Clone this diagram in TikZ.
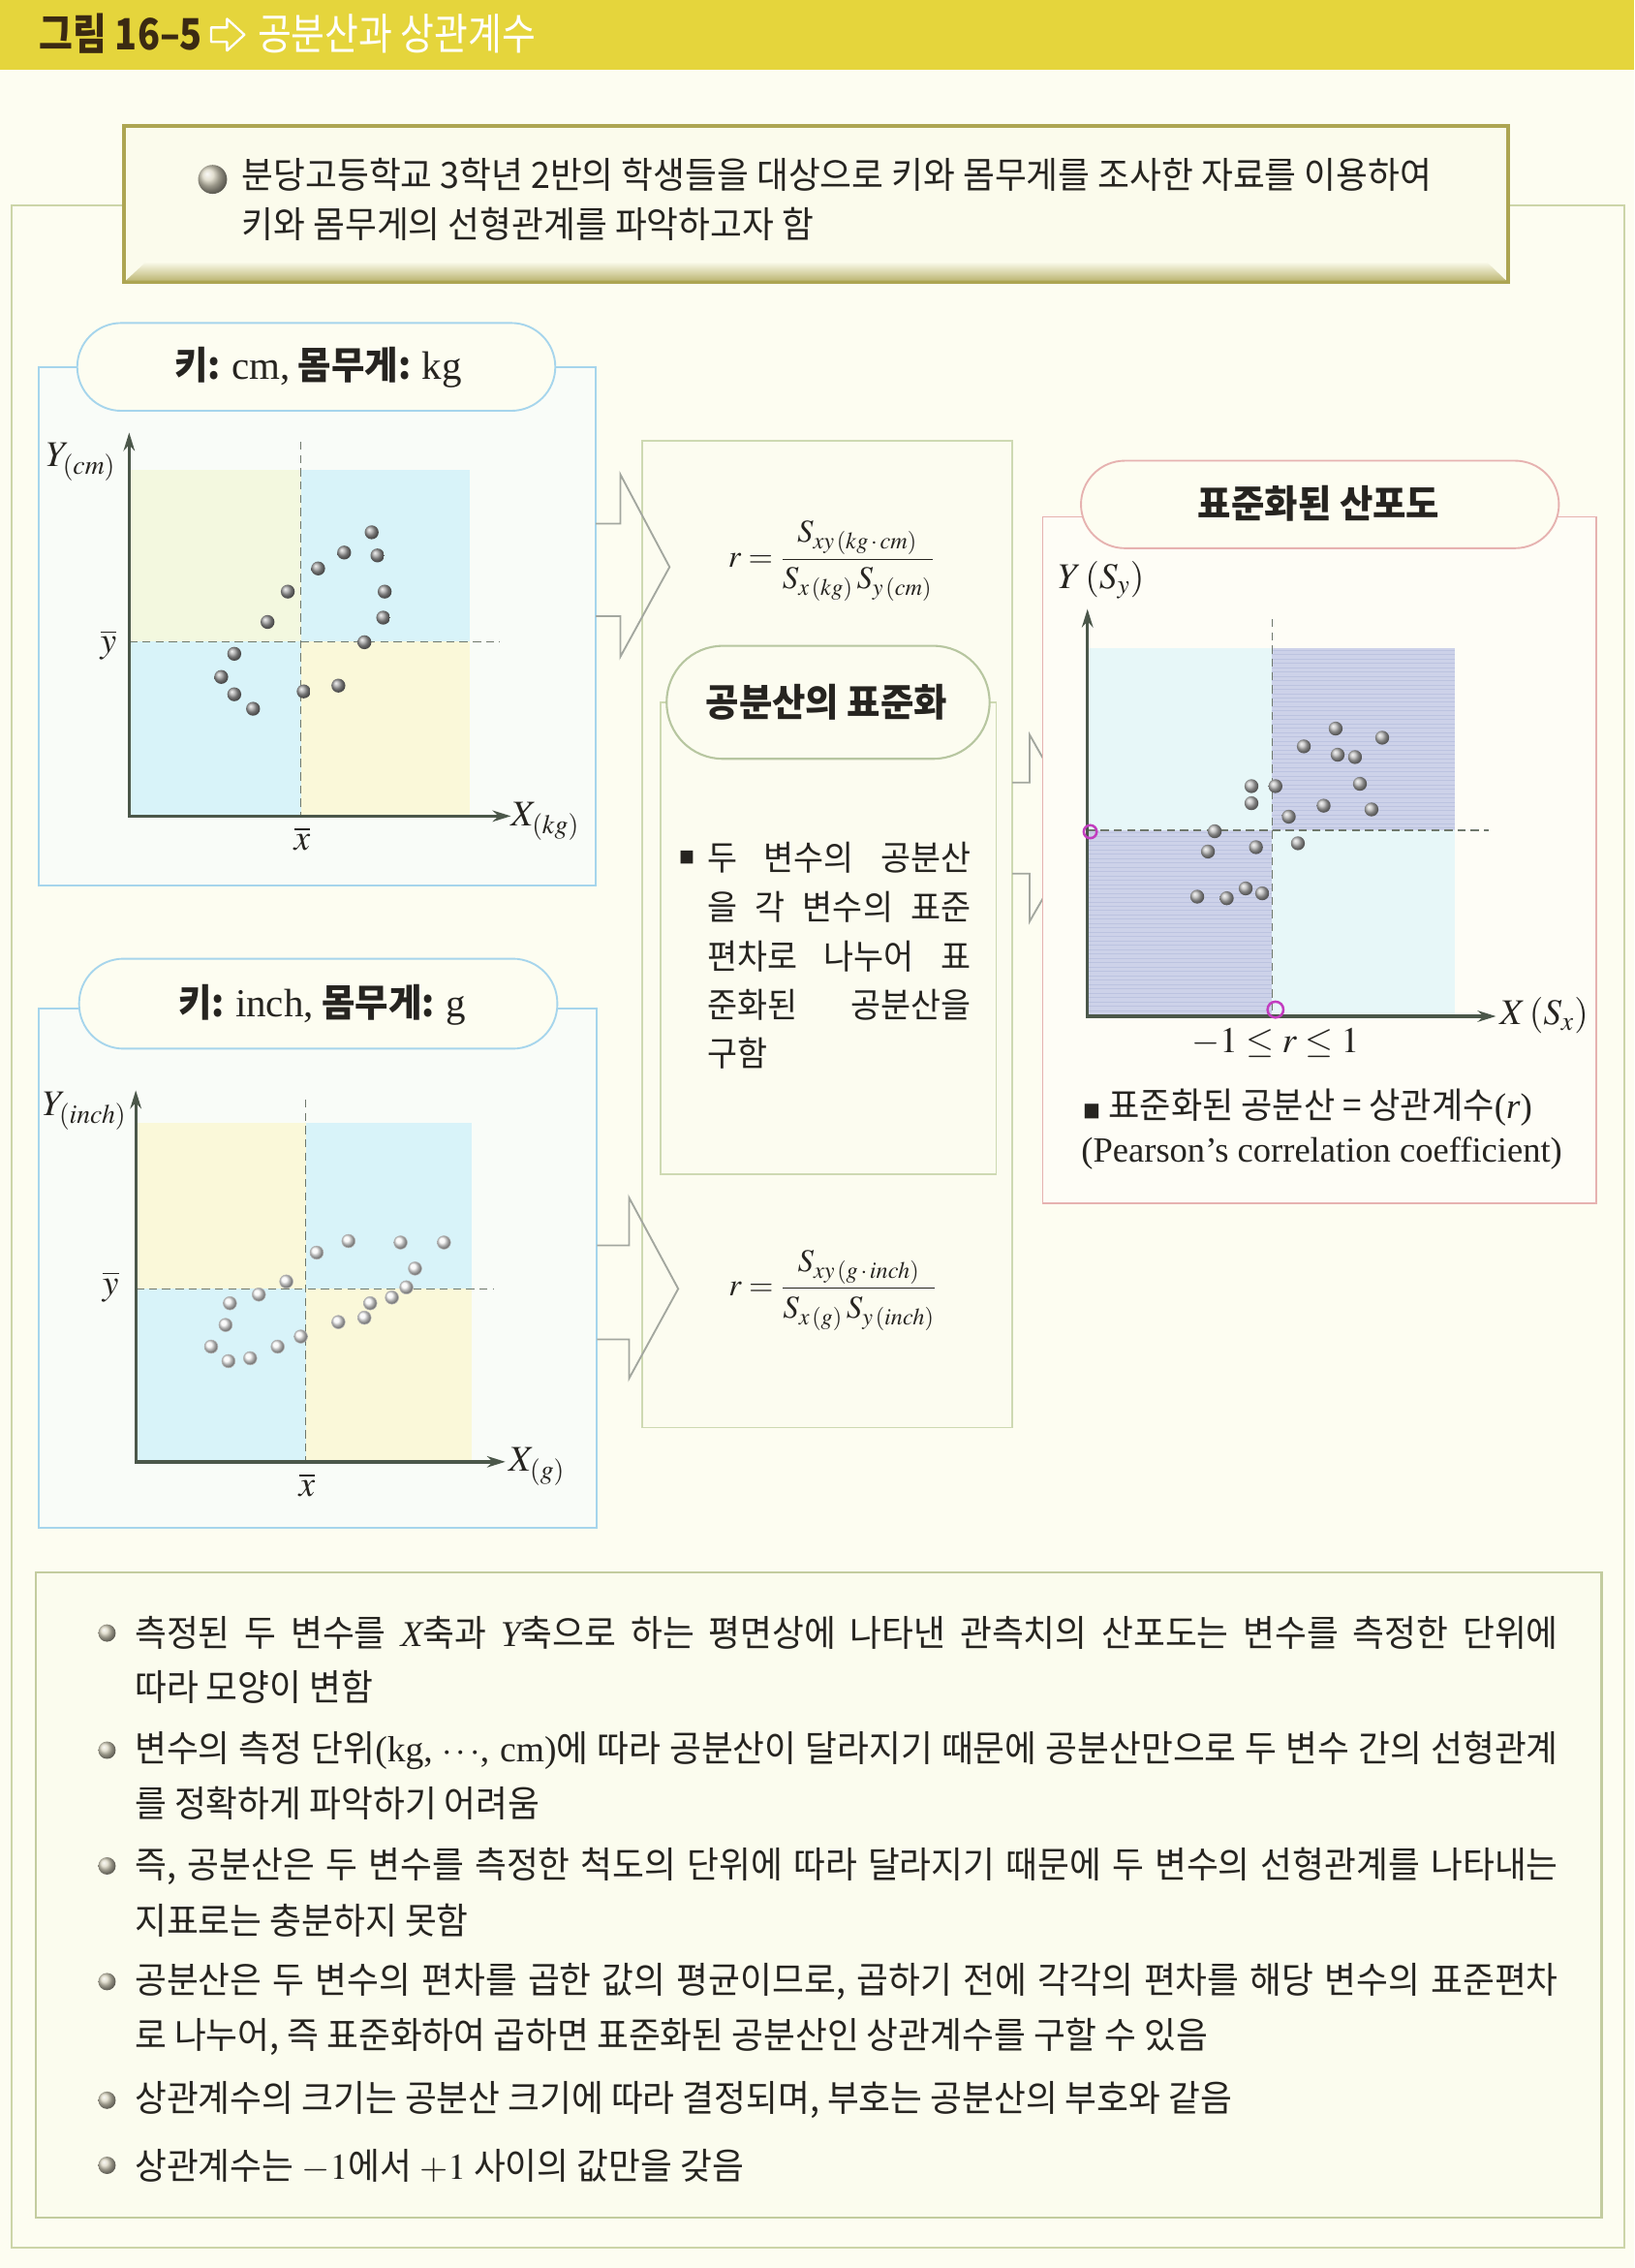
\documentclass[tikz,border=0pt]{standalone}
\usepackage{mathptmx}
\usepackage[no-math]{fontspec}
\setmainfont{Noto Sans CJK KR}[FakeStretch=0.95]
\newfontfamily\tm{Liberation Serif}
\newfontfamily\ttl{Noto Sans CJK KR}[FakeStretch=0.85]
\usetikzlibrary{arrows.meta}
\newcommand\setfs[1]{\fontsize{#1pt}{#1pt}\selectfont}
\definecolor{bg}{HTML}{FDFDF1}
\definecolor{banner}{HTML}{E5D53C}
\definecolor{ttlbrown}{HTML}{3B2A12}
\definecolor{outerc}{HTML}{CCD5A8}
\definecolor{topbord}{HTML}{ADA552}
\definecolor{topfill}{HTML}{FBFBEC}
\definecolor{bluebord}{HTML}{A6D5EC}
\definecolor{panelfill}{HTML}{F9FCF8}
\definecolor{qcyan}{HTML}{D8F3F9}
\definecolor{qyg}{HTML}{F3F8DF}
\definecolor{qyel}{HTML}{FAF8D9}
\definecolor{axisc}{HTML}{4B574A}
\definecolor{dashc}{HTML}{6F786C}
\definecolor{midbord}{HTML}{CED9B2}
\definecolor{midpill}{HTML}{B7C6A0}
\definecolor{midfill}{HTML}{FCFCF0}
\definecolor{pinkb}{HTML}{E6B2B0}
\definecolor{rightfill}{HTML}{FEFDF6}
\definecolor{lav}{HTML}{CDD2E9}
\definecolor{lavline}{HTML}{BCC3E0}
\definecolor{lcyan}{HTML}{E7F7F8}
\definecolor{magen}{HTML}{C23DBF}
\definecolor{arrowc}{HTML}{A3A79F}
\definecolor{botbord}{HTML}{C3CC9F}
\definecolor{botfill}{HTML}{FBFCEE}
\definecolor{textc}{HTML}{262420}
\definecolor{bulc}{HTML}{DAD6C2}
\begin{document}
\begin{tikzpicture}[x=0.025cm,y=-0.025cm,
  txt/.style={inner sep=0pt, text=textc},
  ltxt/.style={txt, anchor=west},
  btxt/.style={ltxt, font=\setfs{17.9}},
  mtxt/.style={ltxt, font=\setfs{16.9}},
  hdr/.style={txt, font=\bfseries\setfs{18.75}},
  lab/.style={txt, font=\setfs{17.8}},
  frm/.style={txt, font=\setfs{15.6}},
  axes/.style={draw=axisc, line width=1.6pt, {Stealth[length=9pt,width=5.5pt]}-{Stealth[length=9pt,width=5.5pt]}},
  dsh/.style={draw=dashc, line width=0.5pt, dash pattern=on 4pt off 2.5pt},
  bigarrow/.style={draw=arrowc, line width=0.9pt, line join=miter},
  panelb/.style={draw=bluebord, line width=0.9pt},
  dotA/.style={ball color=gray!75!white},
  dotB/.style={ball color=white!93!gray},
  dotC/.style={ball color=gray!55!white},
  bul/.style={ball color=bulc}
]
\useasboundingbox (0,0) rectangle (1130,1568);
\fill[bg] (0,0) rectangle (1130,1568);
% ---------- banner ----------
\fill[banner] (0,0) rectangle (1130,48);
\node[ltxt, text=ttlbrown, font=\ttl\bfseries\setfs{21.2}] (tnum) at (27,23) {그림 16–5};
\draw[white, line width=1.1pt, line join=round] (146,19) -- (157,19) -- (157,13) -- (169,24) -- (157,35) -- (157,29) -- (146,29) -- cycle;
\node[ltxt, text=white, font=\ttl\setfs{21.2}] (ttitle) at (178,23) {공분산과 상관계수};
% ---------- outer frame ----------
\draw[outerc, line width=1pt] (8,142) rectangle (1123,1554);
% ---------- top box ----------
\draw[topbord, line width=1.8pt, fill=topfill] (85.5,87) rectangle (1043,195);
\shade[top color=topfill, bottom color=topbord!80] (87,194) -- (101,181) -- (1028,181) -- (1041.5,194) -- cycle;
\shade[bul] (147,124) circle (10);
\node[btxt] (intro1) at (167,121) {분당고등학교 3학년 2반의 학생들을 대상으로 키와 몸무게를 조사한 자료를 이용하여};
\node[btxt] (intro2) at (167,155) {키와 몸무게의 선형관계를 파악하고자 함};
% ---------- panel 1 ----------
\draw[panelb, fill=panelfill] (26.5,254) rectangle (412,612);
\fill[qyg] (89.3,325) rectangle (208,443.7);
\fill[qcyan] (208,325) rectangle (325,443.7);
\fill[qcyan] (89.3,443.7) rectangle (208,564.2);
\fill[qyel] (208,443.7) rectangle (325,564.2);
\draw[dsh] (208,305.4) -- (208,564.2);
\draw[dsh] (89.3,443.7) -- (345.6,443.7);
\draw[axes] (89.3,299) -- (89.3,564.2) -- (353.3,564.2);
\foreach \x/\y in {257/368, 238/382, 220/393, 261/384, 199/409, 266/409, 185/430, 265/427, 252/444, 162/452, 153/468, 162/480, 175/490, 210/478, 234/474}
  \shade[dotA] (\x,\y) circle (4.8);
\node[lab] (ylab1) at (56,319.5) {$Y_{(cm)}$};
\node[lab] (xlab1) at (377,568) {$X_{(kg)}$};
\node[lab] (ybar1) at (75,446) {$\overline{y}$};
\node[lab] (xbar1) at (209,580) {$\overline{x}$};
\draw[panelb, fill=bg, rounded corners=0.76cm] (53.4,223.3) rectangle (384,284);
\node[hdr] (h1) at (220,254) {키: {\tm\mdseries\setfs{19.5}cm,} 몸무게: {\tm\mdseries\setfs{19.5}kg}};
% ---------- panel 2 ----------
\draw[panelb, fill=panelfill] (26.5,697) rectangle (412.8,1056);
\fill[qyel] (93.9,776.3) rectangle (211.6,891);
\fill[qcyan] (211.6,776.3) rectangle (326.4,891);
\fill[qcyan] (93.9,891) rectangle (211.6,1010.6);
\fill[qyel] (211.6,891) rectangle (326.4,1010.6);
\draw[dsh] (211.6,760.2) -- (211.6,1010.6);
\draw[dsh] (93.9,891) -- (341.8,891);
\draw[axes] (93.9,753.8) -- (93.9,1010.6) -- (349.5,1010.6);
\foreach \x/\y in {241/858, 277/859, 307/859, 219/866, 287/877, 198/886, 281/890, 179/895, 271/897, 256/901, 159/901, 252/911, 234/914, 156/916, 208/924, 192/931, 146/931, 173/939, 158/941}
  {\shade[dotB] (\x,\y) circle (4.6); \draw[gray!60, line width=0.3pt] (\x,\y) circle (4.6);}
\node[lab] (ylab2) at (58.5,768) {$Y_{(inch)}$};
\node[lab] (xlab2) at (371.3,1014) {$X_{(g)}$};
\node[lab] (ybar2) at (76.5,889.5) {$\overline{y}$};
\node[lab] (xbar2) at (212.3,1026.5) {$\overline{x}$};
\draw[panelb, fill=bg, rounded corners=0.77cm] (54.7,662.8) rectangle (385.4,725);
\node[hdr] (h2) at (222.6,694.8) {키: {\tm\mdseries\setfs{19.5}inch,} 몸무게: {\tm\mdseries\setfs{19.5}g}};
% ---------- middle column ----------
\draw[midbord, line width=0.8pt, fill=midfill] (444.3,304.8) rectangle (700,987);
\draw[midbord, line width=0.8pt] (456.6,485.6) rectangle (688.8,812);
\draw[midpill, line width=1pt, fill=midfill, rounded corners=0.97cm] (461,446.5) rectangle (684.3,524.6);
\node[hdr] (h3) at (571.6,485.6) {공분산의 표준화};
\node[frm] (f1) at (575,388) {$r={\displaystyle\frac{S_{xy\,(kg\,\cdot\,cm)}}{S_{x\,(kg)}\,S_{y\,(cm)}}}$};
\node[frm] (f2) at (576,892) {$r={\displaystyle\frac{S_{xy\,(g\,\cdot\,inch)}}{S_{x\,(g)}\,S_{y\,(inch)}}}$};
\node[txt, font=\setfs{8}] (msq) at (475,593) {■};
\node[mtxt] (m1) at (489,593) {\makebox[4.55cm][s]{두 변수의 공분산}};
\node[mtxt] (m2) at (489,627) {\makebox[4.55cm][s]{을 각 변수의 표준}};
\node[mtxt] (m3) at (489,661) {\makebox[4.55cm][s]{편차로 나누어 표}};
\node[mtxt] (m4) at (489,694.5) {\makebox[4.55cm][s]{준화된 공분산을}};
\node[mtxt] (m5) at (489,728) {구함};
% ---------- block arrows ----------
\draw[bigarrow] (412,362) -- (429,362) -- (429,328) -- (463,392) -- (429,454) -- (429,426) -- (412,426);
\draw[bigarrow] (412.8,861) -- (435,861) -- (435,828) -- (469,891) -- (435,953) -- (435,926) -- (412.8,926);
\draw[bigarrow] (700,541) -- (712,541) -- (712,508) -- (749,573) -- (712,637) -- (712,604) -- (700,604);
% ---------- right panel ----------
\draw[pinkb, line width=0.9pt, fill=rightfill] (721,357.3) rectangle (1104,832);
\fill[lcyan] (752,448) rectangle (879.5,574);
\fill[lav] (879.5,448) rectangle (1006,574);
\fill[lav] (752,574) rectangle (879.5,702.6);
\fill[lcyan] (879.5,574) rectangle (1006,702.6);
\foreach \s in {0,3,...,123}
  {\draw[lavline, line width=0.35pt] (879.5,449.5+\s) -- (1006,449.5+\s);
   \draw[lavline, line width=0.35pt] (752,575.5+\s) -- (879.5,575.5+\s);}
\draw[dsh] (879.5,428) -- (879.5,702.6);
\draw[dsh] (752,574) -- (1029.5,574);
\draw[axes] (752,421) -- (752,702.6) -- (1034.5,702.6);
\foreach \x/\y in {923.6/503.7, 955.8/510, 901.6/516, 925/521.8, 937/523.4, 865.4/543.5, 882/543.5, 940.4/541.9, 865.4/555.3, 915.3/557, 948.4/559.6, 891.2/564.6, 840/574.7, 868.5/585.7, 897.5/583, 835.3/588.7, 827.9/619.9, 848.3/621, 861.4/614.2, 872.8/617.6}
  \shade[dotC] (\x,\y) circle (4.8);
\draw[magen, line width=1.2pt] (753.9,575) circle (4.5);
\draw[magen, line width=1.2pt] (882,698) circle (5.5);
\node[lab] (ylab3) at (761.5,401) {$Y\,(S_y)$};
\node[lab] (xlab3) at (1067.7,702) {$X\,(S_x)$};
\node[lab] (rng) at (882,721) {$-1\le r\le 1$};
\node[ltxt, font=\setfs{17.6}] (def1) at (749,765.6) {{\setfs{9}■} 표준화된 공분산 = 상관계수{\tm(\textit{r})}};
\node[ltxt, font=\tm\setfs{17.4}] (def2) at (747.5,797.7) {(Pearson’s correlation coefficient)};
\draw[pinkb, line width=0.9pt, fill=bg, rounded corners=0.76cm] (747.5,318.5) rectangle (1078,379);
\node[hdr] (h4) at (912,348) {표준화된 산포도};
% ---------- bottom box ----------
\draw[botbord, line width=1.1pt, fill=botfill] (25,1087) rectangle (1107.5,1533);
\foreach \y in {1129,1210,1290,1370,1452,1497}
  \shade[bul] (74,\y) circle (6);
\node[btxt] (b1a) at (93,1129) {\makebox[24.6cm][s]{측정된 두 변수를 {\tm\itshape X}축과 {\tm\itshape Y}축으로 하는 평면상에 나타낸 관측치의 산포도는 변수를 측정한 단위에}};
\node[btxt] (b1b) at (93,1166) {따라 모양이 변함};
\node[btxt] (b2a) at (93,1210) {\makebox[24.6cm][s]{변수의 측정 단위{\tm(kg,} $\cdots${\tm, cm)}에 따라 공분산이 달라지기 때문에 공분산만으로 두 변수 간의 선형관계}};
\node[btxt] (b2b) at (93,1247) {를 정확하게 파악하기 어려움};
\node[btxt] (b3a) at (93,1290) {\makebox[24.6cm][s]{즉, 공분산은 두 변수를 측정한 척도의 단위에 따라 달라지기 때문에 두 변수의 선형관계를 나타내는}};
\node[btxt] (b3b) at (93,1328) {지표로는 충분하지 못함};
\node[btxt] (b4a) at (93,1370) {\makebox[24.6cm][s]{공분산은 두 변수의 편차를 곱한 값의 평균이므로, 곱하기 전에 각각의 편차를 해당 변수의 표준편차}};
\node[btxt] (b4b) at (93,1408) {로 나누어, 즉 표준화하여 곱하면 표준화된 공분산인 상관계수를 구할 수 있음};
\node[btxt] (b5) at (93,1452) {상관계수의 크기는 공분산 크기에 따라 결정되며, 부호는 공분산의 부호와 같음};
\node[btxt] (b6) at (93,1497) {상관계수는 $-1$에서 $+1$ 사이의 값만을 갖음};
\end{tikzpicture}
\end{document}
